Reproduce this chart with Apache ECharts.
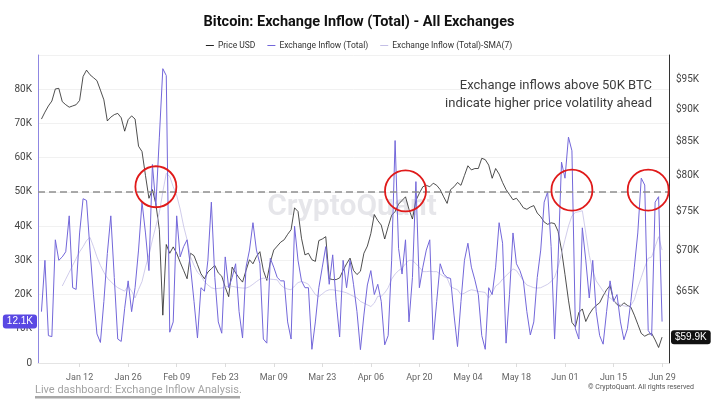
<!DOCTYPE html>
<html>
<head>
<meta charset="utf-8">
<title>Bitcoin: Exchange Inflow (Total) - All Exchanges</title>
<script src="https://cdn.jsdelivr.net/npm/echarts@6.0.0/dist/echarts.min.js"></script>
<style>
  html, body { margin: 0; padding: 0; background: #fff; }
  #chart { width: 718px; height: 416px; }
</style>
</head>
<body>
<div id="chart"></div>
<script>
// axis runs 31 Dec .. 1 Jul, data 1 Jan .. 29 Jun
const startDay = Date.UTC(2024, 11, 31);
const dayCount = 183;
const monthNames = ['Jan', 'Feb', 'Mar', 'Apr', 'May', 'Jun', 'Jul', 'Aug', 'Sep', 'Oct', 'Nov', 'Dec'];
const dates = [];
for (let i = 0; i < dayCount; i++) {
  dates.push(new Date(startDay + i * 86400000).toISOString().slice(0, 10));
}

// exchange inflow, thousand BTC, from 1 Jan
const inflowK = [
  15, 30, 8, 7.7, 36, 30, 31, 32.5, 43, 22,
  21.5, 38, 48, 47.5, 33, 20, 8.5, 6, 18, 32,
  43, 25, 7, 6.3, 16, 24, 15, 22, 33, 47,
  38, 27, 58, 46, 66, 86, 84, 9, 12, 43,
  31, 34, 36, 28, 18, 7.3, 22, 21, 30, 47,
  25, 12, 8.7, 31, 22, 25, 29, 15, 7.3, 28,
  33, 41, 33, 29, 7, 5.8, 30.6, 28, 25, 24,
  24, 12, 7, 40, 30, 24, 22, 22, 4, 12,
  22, 28, 34, 23, 31.6, 18, 7.6, 30, 22, 30,
  23, 15, 3.9, 14, 22.8, 27, 20, 23, 18, 5.3,
  8, 30, 65, 33.5, 26, 36, 12, 25, 53, 22,
  28, 33, 36, 6.8, 18, 29, 26, 25, 24.7, 14,
  4.8, 18, 30, 35, 28, 24.3, 20, 8, 4, 22,
  20, 28, 41, 35, 5.8, 20, 38, 29, 27, 24,
  15, 8.2, 12, 25, 33, 47, 50, 34, 7, 30,
  58.7, 54, 66, 62, 10, 7, 39.5, 30, 19, 30,
  15, 8, 5.5, 15, 24, 18, 20, 12, 6.8, 10,
  18, 28, 38, 54, 52, 9.5, 8, 47, 48.6, 12.1
];

// price, thousand USD, from 1 Jan
const priceK = [
  88.5, 89.6, 90.6, 91.4, 93.4, 93.5, 91.3, 90.8, 90.4, 90.6,
  90.8, 91.5, 95.5, 96.6, 95.8, 95.3, 94.8, 93.2, 91.6, 88.2,
  88.8, 89.2, 89.4, 88.7, 86.6, 88.4, 89, 88.5, 84.3, 83.5,
  80, 76.8, 78, 76, 72.6, 62.3, 70.7, 69.6, 70.4, 69.6,
  68.5, 67.5, 66.5, 69.6, 69.3, 68.2, 67.1, 66.5, 67.3, 67.7,
  68.1, 67.2, 66.8, 65.5, 64.4, 67.9, 67.2, 66.6, 66.1, 67.5,
  68.8, 68.3, 69.2, 69.8, 67.5, 66.3, 68.5, 70, 70.5, 71,
  71.3, 72, 72.6, 75.5, 75, 71.5, 69.4, 69.6, 68.8, 68.6,
  71.2, 71.4, 71.7, 66.5, 66.4, 66.4, 66.6, 67.5, 68.3, 69,
  67.5, 67, 67.4, 69.6, 70.5, 72.1, 74.6, 73.8, 73.2, 71.4,
  73, 74.5, 75, 76, 76.5, 77, 75.3, 74, 76.5, 77.5,
  78.4, 78.6, 78.4, 78.9, 78.6, 78, 77, 76.1, 78, 78.4,
  79, 78.6, 80, 81.4, 80.8, 81, 81, 82.5, 82.3, 81.5,
  79.6, 81, 80.2, 79, 78, 77.3, 76.6, 76.8, 76.2, 75.5,
  75.3, 75.6, 75.8, 74.8, 74.3, 73.6, 73.3, 73.5, 73.4, 72.4,
  70, 67, 64, 61.5, 61, 62.6, 63, 61.6, 62.4, 63,
  63.4, 63.7, 64.5, 65.2, 65.7, 64, 63.5, 63.3, 63.7, 63.4,
  63.2, 62.3, 61.3, 60.3, 60, 60.2, 60.3, 59.6, 58.8, 59.9
];

// 7-day SMA of inflow, thousand BTC, from 7 Jan
const smaK = [
  22.5, 24.5, 26.5, 28.5,
  30.5, 32.5, 34, 35.8, 36.7, 34, 31, 28.5, 26.5, 24.8,
  23.8, 22.8, 22, 21.5, 21, 22.5, 21, 19, 21.5, 23.8,
  28, 31.6, 36, 40, 44, 50, 55.4, 54.5, 51.5, 49,
  45, 40, 36, 31, 28.5, 26.5, 25.5, 23.8, 22.8, 22,
  21.7, 21.8, 21.9, 22.2, 22.5, 22.4, 22.2, 22, 21.9, 21.9,
  22.3, 23, 23.8, 24.5, 24.8, 24.6, 24.5, 24.4, 24.3, 22.8,
  22, 21.6, 21.4, 22.5, 23.5, 23.8, 23.5, 23, 21.5, 20,
  19.4, 20.2, 21, 21.4, 21.4, 21.2, 21, 20.8, 20.5, 20,
  19.5, 19, 18, 17.5, 17, 16.5, 17.5, 19.5, 19.5, 20.5,
  22, 24.5, 26, 27, 27.7, 29, 30, 30, 29, 28,
  26.7, 26.7, 26.8, 26.7, 26.7, 26, 25.3, 24.8, 22.3, 21.8,
  21.4, 20, 20.4, 21, 21.4, 21.2, 20.9, 20.8, 20.6, 19,
  20.5, 22.5, 23.2, 24.5, 25.5, 26.5, 27.5, 27, 25.5, 24,
  22.8, 22.4, 22, 21.9, 22, 22.5, 23, 23.8, 25, 28,
  32, 36, 40, 43, 44, 44.2, 44.5, 38, 31.5, 27,
  24, 22.5, 21, 19.8, 19, 18.2, 17.5, 17, 16.7, 16.5,
  16.8, 18.5, 22, 25, 28, 30.6, 31, 34, 36.9, 33
];

const priceTicksK = [65, 70, 75, 80, 85, 90, 95];
const thresholdK = 50;
const circleDates = ['2025-02-03', '2025-04-16', '2025-06-03', '2025-06-25'];
const circleLevelsK = [51.5, 50.3, 50.5, 50.5];

const labelEvery = (i) => i >= 12 && (i - 12) % 14 === 0;
const fmtDate = (v) => {
  const d = new Date(v + 'T00:00:00Z');
  return monthNames[d.getUTCMonth()] + ' ' + String(d.getUTCDate()).padStart(2, '0');
};

const chart = echarts.init(document.getElementById('chart'));

const option = {
  animation: false,
  backgroundColor: '#fff',
  title: {
    text: 'Bitcoin: Exchange Inflow (Total) - All Exchanges',
    left: 'center',
    top: 10,
    textStyle: {
      fontFamily: 'Roboto, sans-serif',
      fontSize: 14.5,
      fontWeight: 'bold',
      color: '#111'
    }
  },
  legend: {
    top: 36,
    left: 'center',
    icon: 'rect',
    itemWidth: 8,
    itemHeight: 1,
    itemGap: 12,
    textStyle: {
      fontFamily: 'Roboto, sans-serif',
      fontSize: 8.5,
      color: '#333',
      padding: [0, 0, 0, -1]
    }
  },
  grid: { left: 38, right: 49, top: 55, bottom: 53 },
  xAxis: {
    type: 'category',
    data: dates,
    boundaryGap: false,
    axisLine: { lineStyle: { color: '#e4e4e4' } },
    axisTick: { show: true, interval: labelEvery, length: 4, lineStyle: { color: '#dcdcdc' } },
    axisLabel: {
      interval: labelEvery,
      formatter: fmtDate,
      color: '#666',
      fontSize: 9,
      margin: 10,
      fontFamily: 'Roboto, sans-serif'
    },
    splitLine: { show: false }
  },
  yAxis: [
    {
      type: 'value',
      min: 0,
      max: 90,
      interval: 10,
      position: 'left',
      axisLine: { show: true, lineStyle: { color: '#8f87e2', width: 1 } },
      axisTick: { show: false },
      axisLabel: {
        color: '#444',
        fontSize: 10,
        margin: 6,
        showMaxLabel: false,
        fontFamily: 'Roboto, sans-serif',
        formatter: (v) => (v === 0 ? '0' : v + 'K')
      },
      splitLine: { lineStyle: { color: '#f1f1f1' } },
      axisPointer: {
        show: true,
        type: 'line',
        value: inflowK[inflowK.length - 1],
        status: 'show',
        triggerTooltip: false,
        lineStyle: { opacity: 0 },
        label: {
          show: true,
          backgroundColor: '#5a48e3',
          color: '#fff',
          fontSize: 10,
          padding: [2, 4],
          margin: 1,
          formatter: (p) => Number(p.value).toFixed(1) + 'K'
        }
      }
    },
    {
      type: 'value',
      min: Math.log(57.19),
      max: Math.log(99.25),
      position: 'right',
      axisLine: { show: true, lineStyle: { color: '#333', width: 1 } },
      axisTick: { show: false },
      splitLine: { show: false },
      axisLabel: {
        customValues: priceTicksK.map(Math.log),
        formatter: (v) => '$' + Math.round(Math.exp(v)) + 'K',
        color: '#444',
        fontSize: 10,
        margin: 7,
        fontFamily: 'Roboto, sans-serif'
      },
      axisPointer: {
        show: true,
        type: 'line',
        value: Math.log(priceK[priceK.length - 1]),
        status: 'show',
        triggerTooltip: false,
        lineStyle: { opacity: 0 },
        label: {
          show: true,
          backgroundColor: '#111',
          color: '#fff',
          fontSize: 10,
          padding: [2, 4],
          margin: 2,
          formatter: (p) => '$' + Math.exp(p.value).toFixed(1) + 'K'
        }
      }
    }
  ],
  graphic: {
    elements: [
      {
        id: 'wm', type: 'text', x: 352, y: 207, z: 0, silent: true,
        style: { text: 'CryptoQuant', font: '600 30px Roboto', fill: '#e6e6ea', align: 'center', verticalAlign: 'middle' }
      },
      {
        id: 'note1', type: 'text', x: 652, y: 86, z: 10,
        style: { text: 'Exchange inflows above 50K BTC', font: '13px Roboto', fill: '#3c3c3c', align: 'right', verticalAlign: 'middle' }
      },
      {
        id: 'note2', type: 'text', x: 652, y: 104, z: 10,
        style: { text: 'indicate higher price volatility ahead', font: '13px Roboto', fill: '#3c3c3c', align: 'right', verticalAlign: 'middle' }
      },
      {
        id: 'link', type: 'text', x: 35, y: 390, z: 10,
        style: { text: 'Live dashboard: Exchange Inflow Analysis.', font: '11px Roboto', fill: '#a3a3a3', verticalAlign: 'middle' }
      },
      {
        id: 'linkline', type: 'rect', z: 10,
        shape: { x: 35, y: 396, width: 205, height: 2.5 },
        style: { fill: '#a8a8a8' }
      },
      {
        id: 'copy', type: 'text', x: 694, y: 387, z: 10,
        style: { text: '\u00a9 CryptoQuant. All rights reserved', font: '7px Roboto', fill: '#555', align: 'right', verticalAlign: 'middle' }
      }
    ]
  },
  series: [
    {
      name: 'Price USD',
      type: 'line',
      yAxisIndex: 1,
      data: [null].concat(priceK.map(Math.log)),
      showSymbol: false,
      color: '#222',
      lineStyle: { width: 0.8, color: '#222' },
      z: 2
    },
    {
      name: 'Exchange Inflow (Total)',
      type: 'line',
      yAxisIndex: 0,
      data: [null].concat(inflowK),
      showSymbol: false,
      color: '#7367da',
      lineStyle: { width: 1, color: '#7367da' },
      z: 3,
      markLine: {
        silent: true,
        symbol: 'none',
        label: { show: false },
        lineStyle: { color: '#8f8f8f', type: [7, 4], width: 1.5 },
        data: [{ yAxis: thresholdK }]
      }
    },
    {
      name: 'Exchange Inflow (Total)-SMA(7)',
      type: 'line',
      yAxisIndex: 0,
      data: new Array(7).fill(null).concat(smaK),
      showSymbol: false,
      color: '#c4bfe6',
      lineStyle: { width: 0.8, color: '#c4bfe6' },
      z: 2
    }
  ]
};

chart.setOption(option);

// red rings around the spikes crossing the 50K line
const rings = circleDates.map((d, i) => {
  const pt = chart.convertToPixel({ xAxisIndex: 0, yAxisIndex: 0 }, [d, circleLevelsK[i]]);
  return {
    id: 'ring' + i, type: 'circle', z: 100, silent: true,
    shape: { cx: pt[0], cy: pt[1], r: 20.5 },
    style: { fill: 'none', stroke: '#e01a1a', lineWidth: 1.8 }
  };
});
chart.setOption({ graphic: { elements: rings } });
</script>
</body>
</html>
